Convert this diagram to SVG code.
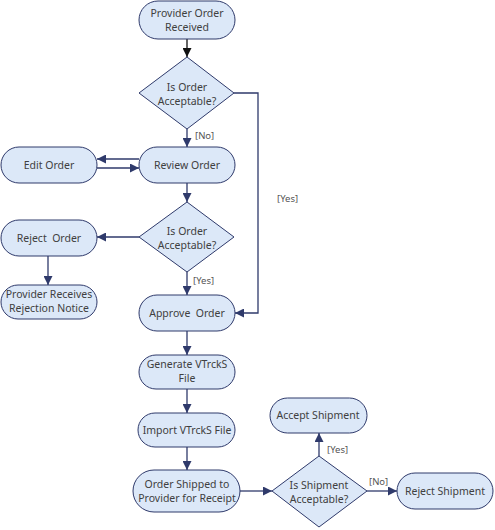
<svg xmlns="http://www.w3.org/2000/svg" width="495" height="530" viewBox="0 0 495 530">
<defs>
<style>
.n{fill:#dce8f8;stroke:#2f3a6b;stroke-width:1}
.t{font-family:"Noto Sans","Liberation Sans",sans-serif;font-size:10.5px;fill:#404040;text-anchor:middle;white-space:pre}
.l{font-family:"Noto Sans","Liberation Sans",sans-serif;font-size:9.5px;fill:#555;text-anchor:start}
.c{fill:none;stroke:#2f3a6b;stroke-width:1.3}
.k{fill:none;stroke:#111;stroke-width:1.3}
</style>
<marker id="a" viewBox="0 0 10 10" refX="10" refY="5" markerWidth="9" markerHeight="9" markerUnits="userSpaceOnUse" orient="auto"><path d="M0,0L10,5L0,10z" fill="#2f3a6b"/></marker>
<marker id="ak" viewBox="0 0 10 10" refX="10" refY="5" markerWidth="9" markerHeight="9" markerUnits="userSpaceOnUse" orient="auto"><path d="M0,0L10,5L0,10z" fill="#111"/></marker>
</defs>
<rect width="495" height="530" fill="#fff"/>
<g id="connectors">
<path class="k" d="M187,39V57" marker-end="url(#ak)"/>
<path class="c" d="M187,129V147" marker-end="url(#a)"/>
<path class="c" d="M234,93H258V313H235" marker-end="url(#a)"/>
<path class="c" d="M139,159H97" marker-end="url(#a)"/>
<path class="c" d="M97,168H139" marker-end="url(#a)"/>
<path class="c" d="M187,183V202" marker-end="url(#a)"/>
<path class="c" d="M139,237H97" marker-end="url(#a)"/>
<path class="c" d="M48,256V285" marker-end="url(#a)"/>
<path class="c" d="M187,272V295" marker-end="url(#a)"/>
<path class="c" d="M187,331V355" marker-end="url(#a)"/>
<path class="c" d="M187,389V413" marker-end="url(#a)"/>
<path class="c" d="M187,447V470" marker-end="url(#a)"/>
<path class="c" d="M240,491H272" marker-end="url(#a)"/>
<path class="c" d="M319,456V433" marker-end="url(#a)"/>
<path class="c" d="M367,491H397" marker-end="url(#a)"/>
<text class="l" x="195" y="139">[No]</text>
<text class="l" x="277" y="202">[Yes]</text>
<text class="l" x="193" y="284">[Yes]</text>
<text class="l" x="327" y="453">[Yes]</text>
<text class="l" x="369" y="485">[No]</text>
</g>
<g id="n1"><rect class="n" x="139" y="1" width="96" height="38" rx="19"/><text class="t" x="187" y="17">Provider Order</text><text class="t" x="187" y="31">Received</text></g>
<g id="n2"><path class="n" d="M187,57L234,93L187,129L139,93z"/><text class="t" x="187" y="91">Is Order</text><text class="t" x="187" y="105">Acceptable?</text></g>
<g id="n3"><rect class="n" x="139" y="147" width="96" height="36" rx="18"/><text class="t" x="187" y="169">Review Order</text></g>
<g id="n4"><rect class="n" x="1" y="147" width="96" height="36" rx="18"/><text class="t" x="49" y="169">Edit Order</text></g>
<g id="n5"><path class="n" d="M187,202L234,237L187,272L139,237z"/><text class="t" x="187" y="235">Is Order</text><text class="t" x="187" y="249">Acceptable?</text></g>
<g id="n6"><rect class="n" x="1" y="220" width="96" height="36" rx="18"/><text class="t" x="49" y="242">Reject  Order</text></g>
<g id="n7"><rect class="n" x="1" y="285" width="96" height="34" rx="17"/><text class="t" x="49" y="298">Provider Receives</text><text class="t" x="49" y="312">Rejection Notice</text></g>
<g id="n8"><rect class="n" x="139" y="295" width="96" height="36" rx="18"/><text class="t" x="187" y="317">Approve  Order</text></g>
<g id="n9"><rect class="n" x="139" y="355" width="96" height="34" rx="17"/><text class="t" x="187" y="368">Generate VTrckS</text><text class="t" x="187" y="382">File</text></g>
<g id="n10"><rect class="n" x="138" y="413" width="97" height="34" rx="17"/><text class="t" x="187" y="434">Import VTrckS File</text></g>
<g id="n11"><rect class="n" x="133" y="470" width="107" height="42" rx="21"/><text class="t" x="187" y="488">Order Shipped to</text><text class="t" x="187" y="502">Provider for Receipt</text></g>
<g id="n12"><path class="n" d="M319,456L367,491L319,527L272,491z"/><text class="t" x="319" y="489">Is Shipment</text><text class="t" x="319" y="503">Acceptable?</text></g>
<g id="n13"><rect class="n" x="270" y="398" width="97" height="35" rx="17.5"/><text class="t" x="318" y="419">Accept Shipment</text></g>
<g id="n14"><rect class="n" x="397" y="473" width="96" height="36" rx="18"/><text class="t" x="445" y="495">Reject Shipment</text></g>
</svg>
